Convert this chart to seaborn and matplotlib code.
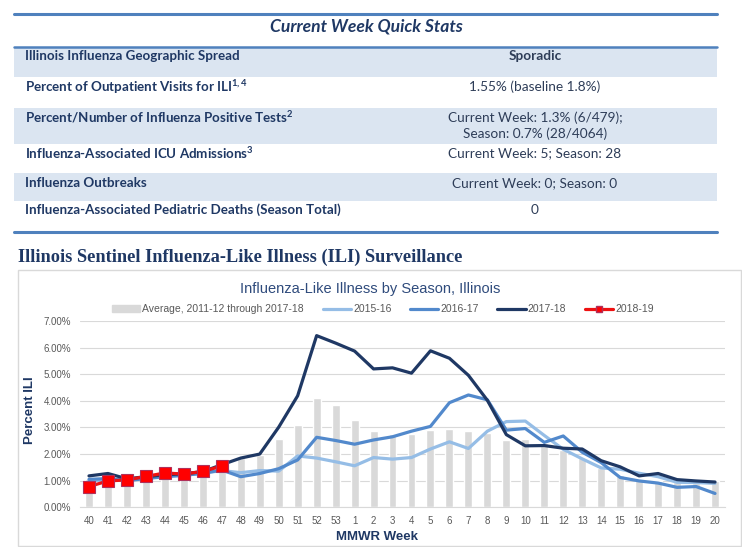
import numpy as np
import pandas as pd
import seaborn as sns
import matplotlib.pyplot as plt
from matplotlib.patches import Rectangle
from matplotlib.lines import Line2D

# MMWR weeks, season 40 -> 20
weeks = ["40", "41", "42", "43", "44", "45", "46", "47", "48", "49", "50", "51", "52", "53",
         "1", "2", "3", "4", "5", "6", "7", "8", "9", "10", "11", "12", "13", "14", "15",
         "16", "17", "18", "19", "20"]

# percent ILI
avg_1118 = [1.08, 1.05, 1.10, 1.12, 1.20, 1.22, 1.30, 1.45, 1.84, 1.97, 2.56, 3.11, 4.12, 3.84,
            3.27, 2.87, 2.77, 2.74, 2.90, 2.94, 2.87, 2.80, 2.52, 2.55, 2.40, 2.15, 1.87, 1.47,
            1.20, 1.07, 1.00, 0.95, 0.93, 0.97]
s1516 = [1.00, 1.02, 1.05, 1.10, 1.18, 1.20, 1.28, 1.38, 1.30, 1.38, 1.36, 1.93, 1.85, 1.71,
         1.56, 1.87, 1.81, 1.87, 2.19, 2.46, 2.21, 2.86, 3.22, 3.24, 2.70, 2.18, 1.82, 1.48,
         1.43, 1.28, 1.15, 0.94, 0.93, 0.90]
s1617 = [1.05, 1.08, 1.00, 1.08, 1.15, 1.20, 1.28, 1.40, 1.15, 1.27, 1.45, 1.78, 2.63, 2.51,
         2.37, 2.53, 2.65, 2.86, 3.04, 3.93, 4.22, 4.04, 2.90, 2.96, 2.44, 2.68, 2.07, 1.68,
         1.12, 0.99, 0.91, 0.75, 0.78, 0.52]
s1718 = [1.18, 1.27, 1.07, 1.15, 1.22, 1.26, 1.34, 1.60, 1.85, 2.00, 3.01, 4.19, 6.45, 6.17,
         5.87, 5.20, 5.24, 5.04, 5.88, 5.60, 4.96, 4.02, 2.73, 2.31, 2.32, 2.22, 2.19, 1.75,
         1.52, 1.18, 1.27, 1.04, 0.99, 0.95]
s1819 = [0.78, 0.99, 1.03, 1.16, 1.29, 1.25, 1.35, 1.55]

ytick_vals = [0, 1, 2, 3, 4, 5, 6, 7]

# quick stats table
stat_labels = ["Illinois Influenza Geographic Spread",
               "Percent of Outpatient Visits for ILI",
               "Percent/Number of Influenza Positive Tests",
               "Influenza-Associated ICU Admissions",
               "Influenza Outbreaks",
               "Influenza-Associated Pediatric Deaths (Season Total)"]
stat_sups = ["", "1, 4", "2", "3", "", ""]
stat_values = ["Sporadic",
               "1.55% (baseline 1.8%)",
               "Current Week: 1.3% (6/479);\nSeason: 0.7% (28/4064)",
               "Current Week: 5; Season: 28",
               "Current Week: 0; Season: 0",
               "0"]

df = pd.DataFrame({"week": weeks, "avg": avg_1118, "s1516": s1516, "s1617": s1617,
                   "s1718": s1718})
df["s1819"] = pd.Series(s1819, dtype=float)
df["pos"] = np.arange(len(df))

sns.set_style("white")
plt.rcParams["font.family"] = ["Liberation Sans", "DejaVu Sans"]

W, H = 742, 547
fig = plt.figure(figsize=(W / 100, H / 100), dpi=100)


def fx(x):
    return x / W


def fy(y):
    return 1 - y / H


navy = "#1f3864"
rule = "#4f81bd"
shade = "#dbe5f1"
tfont = ["Lato", "DejaVu Sans"]

# ---- table ----
row_bounds = [(46.7, 76.7), (76.7, 108.3), (108.3, 144), (144, 172.7), (172.7, 200.7), (200.7, 230)]
row_text_y = [56, 87, 117, 153, 183, 210]
for i, (y0, y1) in enumerate(row_bounds):
    if i % 2 == 0:
        fig.patches.append(Rectangle((fx(14), fy(y1)), fx(717) - fx(14), fy(y0) - fy(y1),
                                     transform=fig.transFigure, color=shade, lw=0, zorder=0))
for yy, lw in [(14, 2.2), (46.7, 1.8), (232.3, 2.2)]:
    fig.add_artist(Line2D([fx(14), fx(717)], [fy(yy), fy(yy)], color=rule, lw=lw))

fig.text(fx(366), fy(27), "Current Week Quick Stats", family=tfont, fontsize=12.6,
         fontweight="bold", fontstyle="italic", color=navy, ha="center", va="center")
for i in range(len(stat_labels)):
    lab = stat_labels[i]
    if stat_sups[i]:
        lab = lab + r"$\mathregular{^{" + stat_sups[i] + "}}$"
    fig.text(fx(25), fy(row_text_y[i]), lab, family=tfont, fontsize=9.6, fontweight="bold",
             color=navy, ha="left", va="center")
    val_y = row_text_y[i] + (9 if "\n" in stat_values[i] else 0)
    fig.text(fx(535), fy(val_y), stat_values[i], family=tfont, fontsize=9.8, color="#2e3d58",
             fontweight="bold" if i == 0 else "normal", ha="center", va="center",
             linespacing=1.3)

fig.text(fx(18), fy(257), "Illinois Sentinel Influenza-Like Illness (ILI) Surveillance",
         family=["Liberation Serif", "DejaVu Serif"], fontsize=13.2, fontweight="bold",
         color=navy, ha="left", va="center")

# chart frame
fig.patches.append(Rectangle((fx(18), fy(546)), fx(741) - fx(18), fy(270) - fy(546),
                             transform=fig.transFigure, fill=False, ec="#d9d9d9", lw=1))

# ---- chart ----
ax = fig.add_axes([fx(79.5), fy(507.3), fx(724.5) - fx(79.5), fy(321) - fy(507.3)])
sns.barplot(data=df, x="pos", y="avg", native_scale=True, color="#d9d9d9", saturation=1,
            width=0.42, errorbar=None, ax=ax, zorder=2)
sns.lineplot(data=df, x="pos", y="s1516", color="#95bde6", lw=2.3, ax=ax, zorder=3)
sns.lineplot(data=df, x="pos", y="s1617", color="#5289cc", lw=2.3, ax=ax, zorder=4)
sns.lineplot(data=df, x="pos", y="s1718", color=navy, lw=2.3, ax=ax, zorder=5)
sns.lineplot(data=df, x="pos", y="s1819", color="#ee1111", lw=2.3, marker="s", markersize=9,
             markerfacecolor="#ff0000", markeredgecolor="#b0305a", markeredgewidth=0.8,
             ax=ax, zorder=6)

ax.set_xlim(-0.5, len(weeks) - 0.5)
ax.set_ylim(0, 7)
ax.set_xticks(df["pos"])
ax.set_xticklabels(weeks)
ax.set_yticks(ytick_vals)
ax.set_yticklabels([f"{v:.2f}%" for v in ytick_vals])
ax.tick_params(length=0, labelsize=7, labelcolor="#595959", pad=6)
ax.grid(axis="y", color="#d9d9d9", lw=0.8)
ax.set_axisbelow(True)
for s in ["top", "right", "left"]:
    ax.spines[s].set_visible(False)
ax.spines["bottom"].set_color("#d9d9d9")
ax.set_xlabel("")
ax.set_ylabel("")

fig.text(fx(370), fy(289), "Influenza-Like Illness by Season, Illinois", fontsize=10.5,
         color="#2f4b7c", ha="center", va="center")
fig.text(fx(30), fy(410), "Percent ILI", fontsize=9.5, fontweight="bold", color=navy,
         rotation=90, ha="center", va="center")
fig.text(fx(377), fy(537), "MMWR Week", fontsize=9.5, fontweight="bold", color=navy,
         ha="center", va="center")

handles = [Rectangle((0, 0), 1, 1, color="#d9d9d9"),
           Line2D([], [], color="#95bde6", lw=2.3),
           Line2D([], [], color="#5289cc", lw=2.3),
           Line2D([], [], color=navy, lw=2.3),
           Line2D([], [], color="#ee1111", lw=2.3, marker="s", markersize=5,
                  markerfacecolor="#ff0000", markeredgecolor="#b0305a")]
names = ["Average, 2011-12 through 2017-18", "2015-16", "2016-17", "2017-18", "2018-19"]
fig.legend(handles, names, loc="center", bbox_to_anchor=(fx(383), fy(309)), ncol=5,
           frameon=False, fontsize=7.5, handlelength=2.7, handleheight=0.6,
           handletextpad=0.2, columnspacing=1.8, labelcolor="#595959")

fig.savefig("out.png", dpi=100)
